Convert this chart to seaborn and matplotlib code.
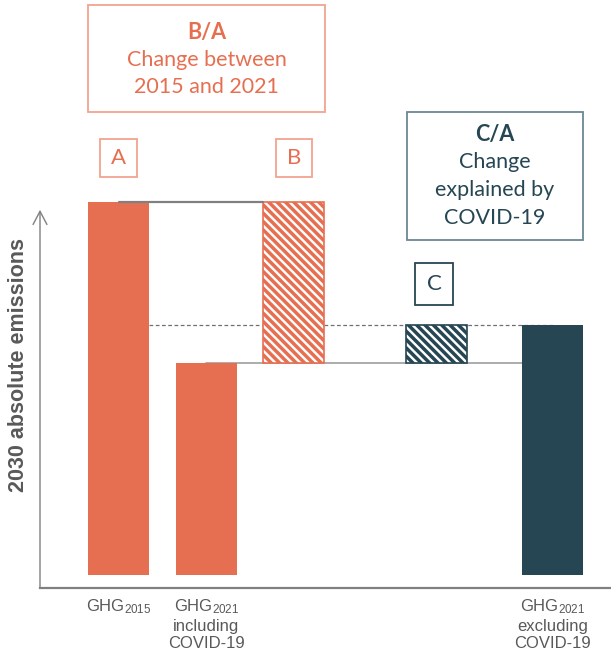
import matplotlib
matplotlib.use('Agg')
import matplotlib.pyplot as plt
from matplotlib.patches import Rectangle
import pandas as pd
import seaborn as sns

# ── Data (index: GHG2015 = 100) ──────────────────────────────────────────
bar_names = ['GHG2015', 'GHG2021 incl', 'GHG2021 excl']
bar_values = [100, 57, 67]
tick_labels = ['$GHG_{2015}$',
               '$GHG_{2021}$\nincluding\nCOVID-19',
               '$GHG_{2021}$\nexcluding\nCOVID-19']
ghg_2015, ghg_incl, ghg_excl = bar_values
change_b = ghg_2015 - ghg_incl        # B: change 2015 -> 2021
change_c = ghg_excl - ghg_incl        # C: part explained by COVID-19

# ── Style / layout ───────────────────────────────────────────────────────
ORANGE = '#E76F51'
ORANGE_EDGE = '#F2A48F'
TEAL = '#264653'
TEAL_EDGE = '#6B8791'
GREY = '#808080'
TXT_GREY = '#595959'
BOX_FONT = ['Lato', 'DejaVu Sans']
HATCH = '\\' * 4

pos_a, pos_incl, pos_b, pos_c, pos_excl = 0, 1, 2, 3.64, 4.97
W = 0.70
FW, FH = 611, 657

sns.set_style('white')
plt.rcParams['font.family'] = ['Liberation Sans', 'DejaVu Sans']
plt.rcParams['mathtext.default'] = 'regular'
plt.rcParams['hatch.linewidth'] = 2.5

fig = plt.figure(figsize=(FW / 100, FH / 100), dpi=100)
ax = fig.add_axes([40 / FW, 69 / FH, 571 / FW, 408 / FH])

df = pd.DataFrame({'pos': [pos_a, pos_incl, pos_excl],
                   'value': bar_values, 'name': bar_names})
sns.barplot(data=df, x='pos', y='value', hue='name',
            palette=[ORANGE, ORANGE, TEAL], native_scale=True,
            width=W, dodge=False, legend=False, saturation=1,
            linewidth=0, zorder=2, ax=ax)

# floating (waterfall) bars
ax.bar(pos_b, change_b, bottom=ghg_incl, width=W, facecolor='white',
       edgecolor=ORANGE, hatch=HATCH, linewidth=1.2, zorder=3)
ax.bar(pos_c, change_c, bottom=ghg_incl, width=W, facecolor='white',
       edgecolor=TEAL, hatch=HATCH, linewidth=1.2, zorder=3)

# connector lines
ax.plot([pos_a, pos_b - W / 2], [ghg_2015] * 2, color=GREY, lw=1.6, zorder=4)
ax.plot([pos_incl, pos_excl], [ghg_incl] * 2, color='#a6a6a6', lw=1.3, zorder=1)
ax.plot([pos_a + W / 2, pos_excl], [ghg_excl] * 2, color='#707070', lw=0.9,
        ls=(0, (3, 2)), zorder=1)

ax.set_xlim(-0.905, 5.64)
ax.set_ylim(-3.5, 106)
ax.set_yticks([])
ax.set_xlabel('')
ax.set_ylabel('')
sns.despine(ax=ax, left=True)
ax.spines['bottom'].set_color(GREY)
ax.spines['bottom'].set_linewidth(1.6)

ax.set_xticks([pos_a, pos_incl, pos_excl], tick_labels)
ax.tick_params(axis='x', length=0, pad=7, labelsize=12, labelcolor=TXT_GREY)

# y axis arrow
ax.annotate('', xy=(0, 98), xycoords=('axes fraction', 'data'),
            xytext=(0, 0), textcoords='axes fraction',
            arrowprops=dict(arrowstyle='->,head_length=0.95,head_width=0.5',
                            color=GREY, lw=1, shrinkA=0, shrinkB=0))
fig.text(18.5 / FW, 1 - 365 / FH, '2030 absolute emissions', rotation=90,
         ha='center', va='center', fontsize=15.5, fontweight='bold',
         color=TXT_GREY)


def px_box(x0, y0, x1, y1, edge, lw=1.3):
    fig.patches.append(Rectangle((x0 / FW, 1 - y1 / FH), (x1 - x0) / FW,
                                 (y1 - y0) / FH, transform=fig.transFigure,
                                 facecolor='none', edgecolor=edge, lw=lw))


def px_text(x, y, s, color, size, weight='normal'):
    fig.text(x / FW, 1 - y / FH, s, ha='center', va='center', color=color,
             fontsize=size, fontweight=weight, family=BOX_FONT)


# B/A box
px_box(88, 5, 325, 112, ORANGE_EDGE)
px_text(206.5, 32, 'B/A', ORANGE, 15.5, 'bold')
px_text(206.5, 60, 'Change between', ORANGE, 15.5)
px_text(206.5, 87, '2015 and 2021', ORANGE, 15.5)

# C/A box
px_box(407, 112, 583, 240, TEAL_EDGE)
px_text(495, 135, 'C/A', TEAL, 15.5, 'bold')
px_text(495, 162, 'Change', TEAL, 15.5)
px_text(495, 190, 'explained by', TEAL, 15.5)
px_text(495, 218, 'COVID-19', TEAL, 15.5)

# letter boxes
px_box(100, 139, 137, 177, ORANGE_EDGE)
px_text(118.5, 158, 'A', ORANGE, 16)
px_box(276, 139, 312, 177, ORANGE_EDGE)
px_text(294, 158, 'B', ORANGE, 16)
px_box(415, 263, 453, 305, TEAL)
px_text(434, 284, 'C', TEAL, 16)

fig.savefig('out.png', dpi=100)
